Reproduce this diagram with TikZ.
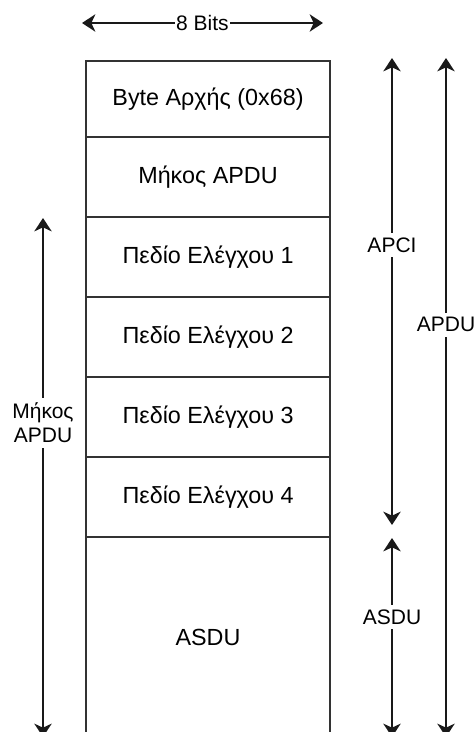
\documentclass[tikz,border=0pt]{standalone}
\usepackage{fontspec}
\setmainfont{Liberation Sans}
\usetikzlibrary{arrows.meta, positioning}
\tikzset{
	every node/.style={
		align=center,
	},
}
\tikzstyle{field} = [draw=black!80, line width=1.5pt, minimum width=183pt, minimum height=60pt, inner sep=0pt, outer sep=0pt, font=\fontsize{17.5}{21}\selectfont]
\tikzstyle{lenarrow} = [line width=1.5pt, draw=black!90, {Stealth[length=10pt,width=13pt,inset=3pt]}-{Stealth[length=10pt,width=13pt,inset=3pt]}]
\tikzstyle{lentag} = [fill=white, inner xsep=1pt, inner ysep=3.5pt, font=\fontsize{15.75}{18}\selectfont]

\begin{document}
\begin{tikzpicture}[x=0.75pt, y=-0.75pt]
    \useasboundingbox (0,0) rectangle (475,732);
    \clip (0,0) rectangle (475,732);

    \node (start) [field, minimum height=57pt] at (208,99) {Byte Αρχής (0x68)};
    \node (len) [field, below=0pt of start] {Μήκος APDU};
    \node (cf1) [field, below=0pt of len] {Πεδίο Ελέγχου 1};
    \node (cf2) [field, below=0pt of cf1] {Πεδίο Ελέγχου 2};
    \node (cf3) [field, below=0pt of cf2] {Πεδίο Ελέγχου 3};
    \node (cf4) [field, below=0pt of cf3] {Πεδίο Ελέγχου 4};
    \node (asdu) [field, minimum height=150pt, below=0pt of cf4] {ASDU};

    \coordinate (bitsl) at (82,23);
    \coordinate (bitsr) at (323,23);
    \coordinate (apcit) at (392,58);
    \coordinate (apcib) at (392,525);
    \coordinate (asdut) at (392,538);
    \coordinate (asdub) at (392,737);
    \coordinate (apdut) at (446,58);
    \coordinate (apdub) at (446,737);
    \coordinate (lent) at (43,218);
    \coordinate (lenb) at (43,737);

    \draw [lenarrow] (bitsl) -- node (bits) [lentag] {8 Bits} (bitsr);
    \draw [lenarrow] (apcit) -- node (apci) [lentag, pos=0.4] {APCI} (apcib);
    \draw [lenarrow] (asdut) -- node (asdulen) [lentag, pos=0.397] {ASDU} (asdub);
    \draw [lenarrow] (apdut) -- node (apdu) [lentag, pos=0.393] {APDU} (apdub);
    \draw [lenarrow] (lent) -- node (apdulen) [lentag, pos=0.395] {Μήκος\\APDU} (lenb);

\end{tikzpicture}
\end{document}
